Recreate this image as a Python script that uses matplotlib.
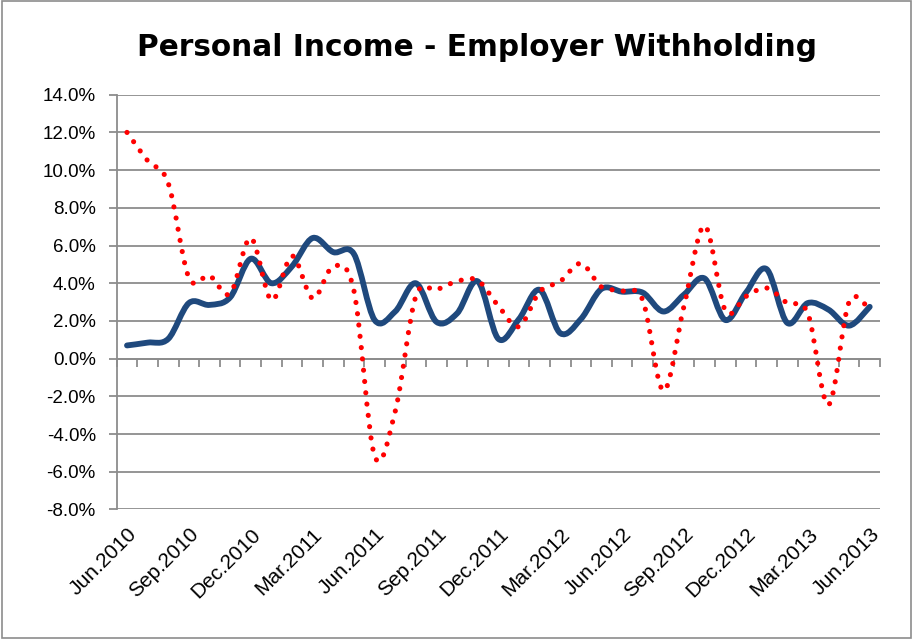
import matplotlib
matplotlib.use("Agg")
import matplotlib.pyplot as plt
from matplotlib.path import Path
from matplotlib.patches import PathPatch, Rectangle

# monthly values, Jun.2010 .. Jun.2013 (37 months), in percent
solid_series = [0.7, 0.85, 1.05, 2.95, 2.85, 3.25, 5.3, 4.0, 4.9, 6.4, 5.65, 5.55,
                2.05, 2.5, 4.0, 1.95, 2.4, 4.1, 1.05, 2.1, 3.65, 1.35, 2.1, 3.7,
                3.55, 3.5, 2.5, 3.4, 4.25, 2.05, 3.5, 4.75, 1.9, 2.95, 2.6, 1.75, 2.75]
dotted_series = [12.0, 10.5, 9.3, 4.3, 4.4, 3.45, 6.4, 3.1, 5.45, 3.2, 4.9, 3.6,
                 -5.15, -2.8, 3.3, 3.65, 4.1, 4.15, 2.8, 1.7, 3.55, 4.1, 5.05, 3.8,
                 3.6, 3.1, -1.7, 2.8, 7.05, 2.55, 3.3, 3.75, 2.95, 2.4, -2.45, 3.0, 2.6]
quarter_labels = ["Jun.2010", "Sep.2010", "Dec.2010", "Mar.2011", "Jun.2011",
                  "Sep.2011", "Dec.2011", "Mar.2012", "Jun.2012", "Sep.2012",
                  "Dec.2012", "Mar.2013", "Jun.2013"]
y_ticks = [-8, -6, -4, -2, 0, 2, 4, 6, 8, 10, 12, 14]


def smooth_path(xs, ys):
    # Excel-style smoothed line: cubic Bezier segments through every point
    n = len(xs)
    verts = [(xs[0], ys[0])]
    codes = [Path.MOVETO]
    for i in range(n - 1):
        xa, ya = (xs[i - 1], ys[i - 1]) if i > 0 else (xs[i], ys[i])
        xb, yb = (xs[i + 2], ys[i + 2]) if i + 2 < n else (xs[i + 1], ys[i + 1])
        c1 = (xs[i] + (xs[i + 1] - xa) / 6, ys[i] + (ys[i + 1] - ya) / 6)
        c2 = (xs[i + 1] - (xb - xs[i]) / 6, ys[i + 1] - (yb - ys[i]) / 6)
        verts += [c1, c2, (xs[i + 1], ys[i + 1])]
        codes += [Path.CURVE4] * 3
    return Path(verts, codes)


x = list(range(len(solid_series)))

fig = plt.figure(figsize=(9.13, 6.39), dpi=100)
ax = fig.add_axes([0.1278, 0.2027, 0.8361, 0.6491])

ax.add_patch(PathPatch(smooth_path(x, solid_series), fill=False, edgecolor="#1F497D",
                       linewidth=4.2, capstyle="round", joinstyle="round", zorder=3))
ax.add_patch(PathPatch(smooth_path(x, dotted_series), fill=False, edgecolor="#FF0000",
                       linewidth=3.7, linestyle=(0, (0.01, 2.2)), capstyle="round",
                       zorder=4))

ax.set_xlim(-0.5, len(x) - 0.5)
ax.set_ylim(-8, 14)

ax.set_yticks(y_ticks)
ax.set_yticklabels([f"{v:.1f}%" for v in y_ticks], fontsize=13.5, family="Liberation Sans")
ax.yaxis.grid(True, color="#8c8c8c", linewidth=1.3)
ax.set_axisbelow(True)

ax.set_xticks(x[::3])
ax.set_xticklabels(quarter_labels, fontsize=15, family="Liberation Sans",
                   rotation=45, ha="right", va="top", rotation_mode="anchor")
ax.tick_params(axis="x", length=0, pad=11)
ax.tick_params(axis="y", length=6, width=1.3, color="#8c8c8c", pad=9)

for side in ["top", "right", "bottom"]:
    ax.spines[side].set_visible(False)
ax.spines["left"].set_color("#8c8c8c")
ax.spines["left"].set_linewidth(1.3)

# category axis crossing at 0% with tick marks between months
zero_axis = ax.secondary_xaxis(8 / 22)
zero_axis.set_xticks([i - 0.5 for i in range(len(x) + 1)])
zero_axis.set_xticklabels([])
zero_axis.tick_params(length=6, width=1.3, color="#8c8c8c", direction="out")
zero_axis.spines["bottom"].set_color("#8c8c8c")
zero_axis.spines["bottom"].set_linewidth(1.3)

fig.text(0.523, 0.926, "Personal Income - Employer Withholding", ha="center",
         va="center", fontsize=21.3, fontweight="bold", family="DejaVu Sans")

fig.patches.append(Rectangle((0.002, 0.002), 0.996, 0.996, transform=fig.transFigure,
                             fill=False, edgecolor="#8c8c8c", linewidth=1.2))

fig.savefig("out.png", dpi=100)
